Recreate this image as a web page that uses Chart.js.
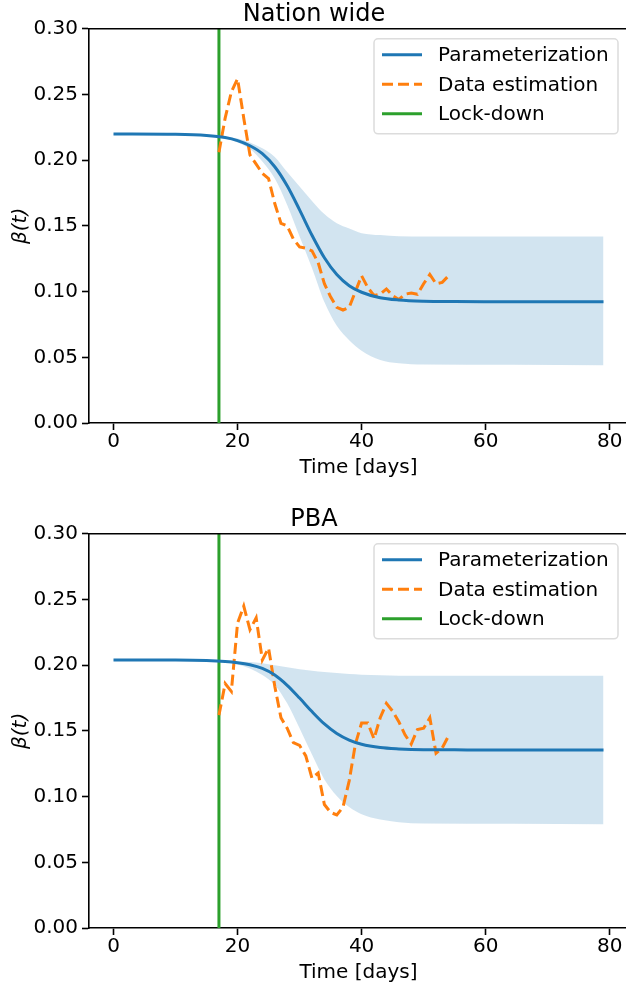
<!DOCTYPE html>
<html>
<head>
<meta charset="utf-8">
<script src="https://cdn.jsdelivr.net/npm/chart.js@4.4.1/dist/chart.umd.min.js"></script>
<style>
  html, body { margin: 0; padding: 0; background: #fff; overflow: hidden; }
  canvas { display: block; }
</style>
</head>
<body>
<canvas id="nationChart" width="632" height="505"></canvas>
<canvas id="pbaChart" width="632" height="484"></canvas>
<script>
// axes
const xTicks = [0, 20, 40, 60, 80];
const xTickLabels = ['0', '20', '40', '60', '80'];
const yTicks = [0, 0.05, 0.1, 0.15, 0.2, 0.25, 0.3];
const yTickLabels = ['0.00', '0.05', '0.10', '0.15', '0.20', '0.25', '0.30'];
const xMin = -3.95;
const xMax = 82.95;
const yMin = 0;
const yMax = 0.3;
const lockdownDay = 17;

// parameterized beta(t)
const paramDays = [0, 10, 15, 18, 20, 22, 24, 26, 28, 30, 32, 34, 36, 38, 40, 43, 46, 50, 55, 60, 79];
const nationParam = [0.2200, 0.2197, 0.2188, 0.2172, 0.2149, 0.2110, 0.2050, 0.1950, 0.1805, 0.1622, 0.1429,
  0.1258, 0.1130, 0.1045, 0.0995, 0.0953, 0.0936, 0.0927, 0.0924, 0.0923, 0.0923];
const pbaParam = [0.2040, 0.2039, 0.2035, 0.2028, 0.2019, 0.2003, 0.1975, 0.1925, 0.1847, 0.1750, 0.1647,
  0.1553, 0.1480, 0.1430, 0.1398, 0.1373, 0.1363, 0.1357, 0.1356, 0.1355, 0.1355];

// uncertainty band
const bandDays = [17, 20, 22, 24, 26, 28, 30, 32, 34, 36, 38, 40, 43, 46, 50, 79];
const nationUpper = [0.218, 0.2165, 0.2135, 0.209, 0.2025, 0.191, 0.180, 0.169, 0.159, 0.152, 0.148, 0.1445, 0.143, 0.1422, 0.142, 0.142];
const nationLower = [0.218, 0.2135, 0.2085, 0.199, 0.186, 0.166, 0.142, 0.118, 0.092, 0.074, 0.063, 0.055, 0.048, 0.0455, 0.0445, 0.044];
const pbaUpper = [0.203, 0.2028, 0.2025, 0.2015, 0.2, 0.1985, 0.197, 0.1958, 0.1948, 0.194, 0.1933, 0.1928, 0.1923, 0.192, 0.192, 0.192];
const pbaLower = [0.203, 0.2005, 0.1975, 0.1925, 0.185, 0.171, 0.152, 0.132, 0.113, 0.1005, 0.092, 0.0865, 0.0825, 0.0805, 0.0795, 0.079];

// data estimation
const estDays = [17, 18, 19, 20, 21, 22, 23, 24, 25, 26, 27, 28, 29, 30, 31, 32, 33, 34, 35,
  36, 37, 38, 39, 40, 41, 42, 43, 44, 45, 46, 47, 48, 49, 50, 51, 52, 53, 54];
const nationEst = [0.206, 0.232, 0.252, 0.262, 0.232, 0.204, 0.197, 0.190, 0.186, 0.167, 0.152, 0.150, 0.140,
  0.134, 0.133, 0.131, 0.122, 0.106, 0.096, 0.088, 0.086, 0.088, 0.100, 0.112, 0.103, 0.097, 0.098,
  0.102, 0.097, 0.094, 0.098, 0.099, 0.098, 0.106, 0.113, 0.106, 0.107, 0.112];
const pbaEst = [0.162, 0.186, 0.180, 0.232, 0.245, 0.227, 0.236, 0.204, 0.213, 0.184, 0.160, 0.152, 0.141,
  0.139, 0.131, 0.114, 0.118, 0.094, 0.088, 0.086, 0.092, 0.112, 0.140, 0.156, 0.156, 0.144, 0.160,
  0.171, 0.165, 0.157, 0.147, 0.140, 0.151, 0.152, 0.160, 0.133, 0.137, 0.146];

const blue = '#1f77b4';
const orange = '#ff7f0e';
const green = '#2ca02c';
const bandFill = 'rgba(31, 119, 180, 0.2)';

Chart.defaults.font.family = "'DejaVu Sans', sans-serif";
Chart.defaults.font.size = 20;
Chart.defaults.color = '#000';

const toPoints = (xs, ys) => xs.map((x, i) => ({ x: x, y: ys[i] }));

// top/right spines + legend inside the axes
const boxAndLegend = {
  id: 'boxAndLegend',
  afterDraw(chart) {
    const { ctx, chartArea } = chart;
    ctx.save();
    ctx.strokeStyle = '#000';
    ctx.lineWidth = 1.6;
    ctx.beginPath();
    ctx.moveTo(chartArea.left, chartArea.top);
    ctx.lineTo(chartArea.right, chartArea.top);
    ctx.lineTo(chartArea.right, chartArea.bottom);
    ctx.stroke();

    const items = chart.data.datasets.filter(d => d.label);
    const w = 244, h = 95;
    const x0 = chartArea.right - 10 - w;
    const y0 = chartArea.top + 10;
    ctx.beginPath();
    ctx.roundRect(x0, y0, w, h, 4);
    ctx.fillStyle = 'rgba(255,255,255,0.8)';
    ctx.fill();
    ctx.strokeStyle = '#dcdcdc';
    ctx.lineWidth = 1.5;
    ctx.stroke();

    ctx.font = "20px 'DejaVu Sans'";
    ctx.textBaseline = 'middle';
    ctx.textAlign = 'left';
    items.forEach((d, i) => {
      const yc = y0 + 16 + i * 29.5;
      ctx.beginPath();
      ctx.setLineDash(d.borderDash || []);
      ctx.strokeStyle = d.borderColor;
      ctx.lineWidth = 3;
      ctx.moveTo(x0 + 8, yc);
      ctx.lineTo(x0 + 48, yc);
      ctx.stroke();
      ctx.setLineDash([]);
      ctx.fillStyle = '#000';
      ctx.fillText(d.label, x0 + 64, yc + 1);
    });
    ctx.restore();
  }
};

const axisStyle = {
  grid: { display: true, drawOnChartArea: false, drawTicks: true, tickLength: 7, tickWidth: 1.6, tickColor: '#000' },
  border: { display: true, color: '#000', width: 1.6 }
};

const makeChart = (canvasId, titleText, param, upper, lower, est, bottomPad) => {
  const canvas = document.getElementById(canvasId);
  return new Chart(canvas, {
    type: 'line',
    data: {
      datasets: [
        { label: 'Parameterization', data: toPoints(paramDays, param), borderColor: blue, borderWidth: 3,
          pointRadius: 0, cubicInterpolationMode: 'monotone', fill: false, order: 1 },
        { label: 'Data estimation', data: toPoints(estDays, est), borderColor: orange, borderWidth: 3,
          borderDash: [11, 5], pointRadius: 0, fill: false, order: 2 },
        { label: 'Lock-down', data: [{ x: lockdownDay, y: yMin }, { x: lockdownDay, y: yMax }],
          borderColor: green, borderWidth: 3, pointRadius: 0, fill: false, order: 3 },
        { label: '', data: toPoints(bandDays, upper), borderColor: 'rgba(0,0,0,0)', borderWidth: 0,
          pointRadius: 0, cubicInterpolationMode: 'monotone', fill: '+1', backgroundColor: bandFill, order: 4 },
        { label: '', data: toPoints(bandDays, lower), borderColor: 'rgba(0,0,0,0)', borderWidth: 0,
          pointRadius: 0, cubicInterpolationMode: 'monotone', fill: false, order: 5 }
      ]
    },
    options: {
      responsive: false,
      animation: false,
      devicePixelRatio: 1,
      events: [],
      layout: { padding: { top: 0, left: 0, right: 4, bottom: bottomPad } },
      plugins: {
        legend: { display: false },
        tooltip: { enabled: false },
        title: { display: true, text: titleText, font: { size: 24, weight: 'normal' }, color: '#000',
          padding: { top: 0, bottom: 0 } }
      },
      scales: {
        x: {
          type: 'linear', min: xMin, max: xMax,
          afterBuildTicks: axis => { axis.ticks = xTicks.map(v => ({ value: v })); },
          afterFit: axis => { axis.height = 61; },
          ticks: { padding: 0, maxRotation: 0, autoSkip: false, color: '#000', callback: (v, i) => xTickLabels[i] },
          title: { display: true, text: 'Time [days]', color: '#000', padding: { top: 2, bottom: 4 } },
          ...axisStyle
        },
        y: {
          min: yMin, max: yMax,
          afterBuildTicks: axis => { axis.ticks = yTicks.map(v => ({ value: v })); },
          afterFit: axis => { axis.width = 89; },
          ticks: { padding: 4, color: '#000', callback: (v, i) => yTickLabels[i] },
          title: { display: true, text: 'β(t)', color: '#000', font: { style: 'italic' }, padding: { top: 9, bottom: 0 } },
          ...axisStyle
        }
      }
    },
    plugins: [boxAndLegend]
  });
};

makeChart('nationChart', 'Nation wide', nationParam, nationUpper, nationLower, nationEst, 21);
makeChart('pbaChart', 'PBA', pbaParam, pbaUpper, pbaLower, pbaEst, 0);
</script>
</body>
</html>
